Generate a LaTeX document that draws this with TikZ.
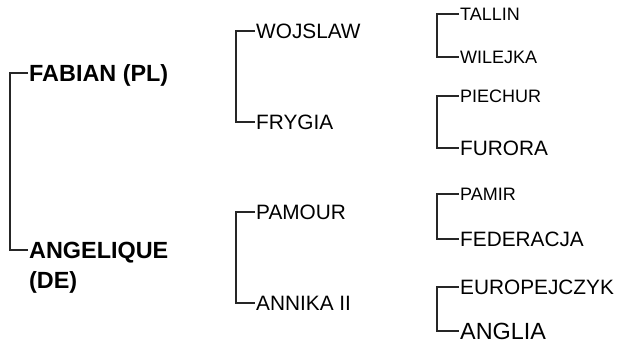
\documentclass[tikz,border=0pt]{standalone}
\usepackage{fontspec}
\setmainfont{Liberation Sans}
\usepackage{tikz}
\usetikzlibrary{positioning}
\usepackage{xcolor}

\begin{document}
\begin{tikzpicture}[x=1pt, y=-1pt,
parentnode/.style={anchor=west, inner xsep=1pt, inner ysep=0pt, text height=16.8pt, text depth=0pt, font=\fontsize{23.4}{27}\selectfont\bfseries},
sirenode/.style={anchor=west, inner xsep=1pt, inner ysep=0pt, text height=14.9pt, text depth=0pt, font=\fontsize{20.8}{24}\selectfont},
smallnode/.style={anchor=west, inner xsep=1pt, inner ysep=0pt, text height=12.9pt, text depth=0pt, font=\fontsize{18}{21}\selectfont},
bignode/.style={anchor=west, inner xsep=1pt, inner ysep=0pt, text height=16.8pt, text depth=0pt, font=\fontsize{23.4}{27}\selectfont},
bracket/.style={line width=2pt, black!85},
]
\useasboundingbox (0,0) rectangle (629,343);

%Nodes
\node[parentnode] at (28,73) (fabian) {FABIAN (PL)};
\node[parentnode] at (28,250) (angelique) {ANGELIQUE};
\node[parentnode] at (28,280) (angeliquede) {(DE)};

\node[sirenode] at (255,31) (wojslaw) {WOJSLAW};
\node[sirenode] at (255,122) (frygia) {FRYGIA};
\node[sirenode] at (255,212) (pamour) {PAMOUR};
\node[sirenode] at (255,303) (annika) {ANNIKA II};

\node[smallnode] at (459,14) (tallin) {TALLIN};
\node[smallnode] at (459,57) (wilejka) {WILEJKA};
\node[smallnode] at (459,96) (piechur) {PIECHUR};
\node[sirenode] at (459,148) (furora) {FURORA};
\node[smallnode] at (459,194) (pamir) {PAMIR};
\node[sirenode] at (459,239) (federacja) {FEDERACJA};
\node[sirenode] at (459,287) (europejczyk) {EUROPEJCZYK};
\node[bignode] at (459,331) (anglia) {ANGLIA};

%Lines
\draw [bracket] (fabian.west) -- ++(-18,0) |- (angelique.west);
\draw [bracket] (wojslaw.west) -- ++(-19,0) |- (frygia.west);
\draw [bracket] (pamour.west) -- ++(-19,0) |- (annika.west);
\draw [bracket] (tallin.west) -- ++(-22,0) |- (wilejka.west);
\draw [bracket] (piechur.west) -- ++(-22,0) |- (furora.west);
\draw [bracket] (pamir.west) -- ++(-22,0) |- (federacja.west);
\draw [bracket] (europejczyk.west) -- ++(-22,0) |- (anglia.west);

\end{tikzpicture}
\end{document}
